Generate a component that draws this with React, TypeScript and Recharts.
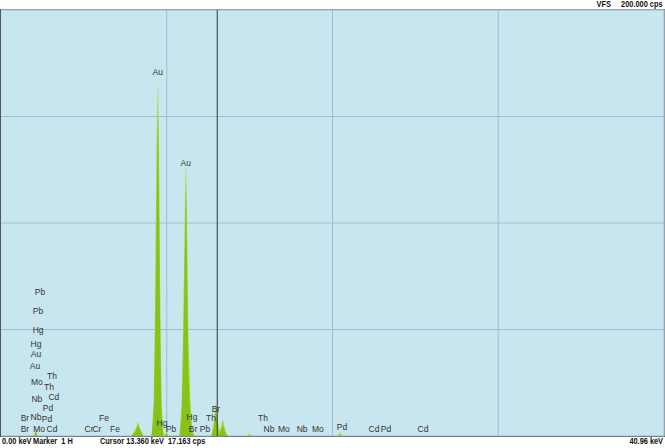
import React from "react";
import {
  ComposedChart,
  Area,
  Scatter,
  XAxis,
  YAxis,
  CartesianGrid,
  ReferenceLine,
} from "recharts";

// Spectrum channels (keV) and counts (cps)
const spectrumKeV = [
  0, 2.05, 2.15, 2.25, 8.05, 8.3, 8.46, 8.62, 8.8, 9.3, 9.43, 9.52, 9.61, 9.7, 9.76, 9.84, 9.92, 10.03,
  10.13, 10.22, 10.32, 11.03, 11.16, 11.26, 11.37, 11.43, 11.49, 11.57, 11.7, 11.82, 11.94, 13.0, 13.15,
  13.28, 13.4, 13.46, 13.58, 13.71, 13.84, 14.0, 15.2, 15.35, 15.5, 20.8, 20.95, 21.1, 40.96,
];
const spectrumTotal = [
  0, 0, 3.5, 0, 0, 3, 6.6, 3, 0, 0, 16, 63, 138, 167, 134, 63, 16, 2,
  0, 2.5, 0, 0, 16, 54, 110, 129, 101, 49, 16, 3, 0, 0, 7,
  15.5, 7, 3, 4, 8, 3, 0, 0, 1, 0, 0, 1.5, 0, 0,
];
const spectrumCore = [
  0, 0, 2, 0, 0, 2, 5, 2, 0, 0, 8, 40, 100, 150, 110, 40, 8, 0,
  0, 1, 0, 0, 8, 35, 90, 115, 80, 30, 8, 1, 0, 0, 4,
  12, 4, 1, 2, 5, 1, 0, 0, 0, 0, 0, 0, 0, 0,
];

// Element line labels
const labelNames = [
  "Pb", "Pb", "Hg", "Hg", "Au", "Au", "Mo", "Th", "Th", "Nb", "Cd", "Pd", "Br", "Nb", "Pd", "Br", "Mo", "Cd",
  "Fe", "Cr", "Cr", "Fe", "Au", "Au", "Hg", "Pb", "Hg", "Br", "Pb", "Th", "Br", "Th", "Nb", "Mo", "Nb", "Mo",
  "Pd", "Cd", "Pd", "Cd",
];
const labelKeV = [
  2.41, 2.29, 2.29, 2.16, 2.16, 2.1, 2.22, 3.15, 2.97, 2.22, 3.27, 2.9, 1.48, 2.16, 2.84, 1.48, 2.35, 3.15,
  6.36, 5.44, 5.93, 7.04, 9.68, 11.41, 9.95, 10.5, 11.8, 11.86, 12.6, 12.97, 13.28, 16.19, 16.56, 17.48, 18.6, 19.58,
  21.07, 23.04, 23.79, 26.07,
];
const labelCps = [
  67.6, 58.7, 49.8, 43.2, 38.5, 32.9, 25.4, 28.2, 23.0, 17.4, 18.3, 13.1, 8.5, 8.9, 8.0, 3.3, 3.3, 3.3,
  8.5, 3.3, 3.3, 3.3, 171, 128, 6.1, 3.3, 8.9, 3.3, 3.3, 8.5, 12.7, 8.5, 3.3, 3.3, 3.3, 3.3,
  4.2, 3.3, 3.3, 3.3,
];

const xTicks = [0, 10.24, 20.48, 30.72, 40.96];
const yTicks = [0, 50, 100, 150, 200];
const cursorKeV = 13.36;

const spectrum = spectrumKeV.map((k, i) => ({ kev: k, total: spectrumTotal[i], core: spectrumCore[i] }));
const labels = labelNames.map((n, i) => ({ name: n, kev: labelKeV[i], cps: labelCps[i] }));

const statusFont: React.CSSProperties = {
  position: "absolute",
  fontFamily: "'Liberation Sans', Arial, sans-serif",
  fontWeight: "bold",
  fontSize: 9,
  color: "#111",
  whiteSpace: "pre",
  lineHeight: "11px",
  transform: "scaleX(0.82)",
};

const LabelShape = (props: any) => (
  <text
    x={props.cx}
    y={props.cy}
    textAnchor="middle"
    dominantBaseline="central"
    fontFamily="'Liberation Sans', Arial, sans-serif"
    fontSize={8.5}
    fill="#333"
  >
    {props.payload.name}
  </text>
);

export default function App() {
  return (
    <div style={{ position: "absolute", left: 0, top: 0, width: 665, height: 448, background: "#fff" }}>
      <div
        style={{
          position: "absolute",
          left: 0,
          top: 9,
          width: 663,
          height: 426,
          background: "#c8e6ef",
          borderTop: "1px solid #888",
          borderLeft: "1px solid #555",
          borderRight: "1px solid #888",
          borderBottom: "1px solid #444",
        }}
      />
      <div style={{ position: "absolute", left: 0, top: 0 }}>
        <ComposedChart
          width={665}
          height={448}
          data={spectrum}
          margin={{ top: 10, right: 1, bottom: 12, left: 1 }}
        >
          <CartesianGrid stroke="#9fbfcc" strokeWidth={1} verticalValues={xTicks} horizontalValues={yTicks} />
          <XAxis dataKey="kev" type="number" domain={[0, 40.96]} ticks={xTicks} hide allowDataOverflow />
          <YAxis type="number" domain={[0, 200]} ticks={yTicks} hide allowDataOverflow />
          <Area
            type="linear"
            dataKey="total"
            stroke="none"
            fill="#a3d62c"
            fillOpacity={1}
            isAnimationActive={false}
            dot={false}
            activeDot={false}
          />
          <Area
            type="linear"
            dataKey="core"
            stroke="none"
            fill="#86c21a"
            fillOpacity={1}
            isAnimationActive={false}
            dot={false}
            activeDot={false}
          />
          <ReferenceLine x={cursorKeV} stroke="#333" strokeWidth={1} ifOverflow="visible" />
          <Scatter data={labels} dataKey="cps" shape={LabelShape} isAnimationActive={false} />
        </ComposedChart>
      </div>
      <div style={{ ...statusFont, right: 2, top: -1, transformOrigin: "right center" }}>{"VFS     200.000 cps"}</div>
      <div style={{ ...statusFont, left: 2, top: 436, transformOrigin: "left center" }}>{"0.00 keV"}</div>
      <div style={{ ...statusFont, left: 33, top: 436, transformOrigin: "left center" }}>{"Marker  1 H"}</div>
      <div style={{ ...statusFont, left: 100, top: 436, transformOrigin: "left center" }}>{"Cursor 13.360 keV"}</div>
      <div style={{ ...statusFont, left: 168, top: 436, transformOrigin: "left center" }}>{"17.163 cps"}</div>
      <div style={{ ...statusFont, right: 2, top: 436, transformOrigin: "right center" }}>{"40.96 keV"}</div>
    </div>
  );
}
